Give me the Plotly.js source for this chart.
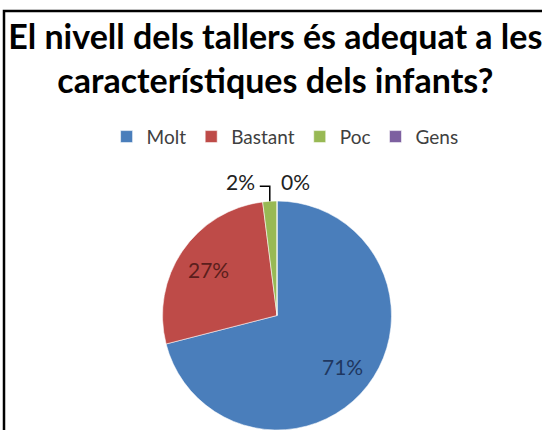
<!DOCTYPE html>
<html>
<head>
<meta charset="utf-8">
<script src="https://cdn.plot.ly/plotly-3.0.1.min.js"></script>
<style>
html,body{margin:0;padding:0;background:#fff;overflow:hidden;}
#chart{width:542px;height:430px;}
</style>
</head>
<body>
<div id="chart"></div>
<script>
var categories = ["Molt", "Bastant", "Poc", "Gens"];
var values = [71, 27, 2, 0];
var sliceColors = ["#4A7EBB", "#BE4B48", "#98B954", "#7D60A0"];
var labelColors = ["#1F3760", "#5A1E1C", "#222222", "#222222"];

var W = 542, H = 430;
var cx = 277, cy = 316, R = 115;
var FONT = "Lato, 'Open Sans', sans-serif";
var total = values.reduce(function (a, b) { return a + b; }, 0);
function pct(v) { return Math.round(v / total * 100) + "%"; }
function toPX(x) { return x / W; }
function toPY(y) { return 1 - y / H; }

var trace = {
  type: "pie",
  labels: categories,
  values: values,
  sort: false,
  direction: "clockwise",
  rotation: 0,
  textinfo: "none",
  textposition: "none",
  marker: {colors: sliceColors, line: {color: "rgba(255,255,255,0.55)", width: 1}},
  domain: {x: [(cx - R) / W, (cx + R) / W], y: [(H - cy - R) / H, (H - cy + R) / H]},
  hoverinfo: "label+percent",
  automargin: false,
  showlegend: true
};

// data labels placed along each slice's mid-angle (computed from the values)
var annotations = [];
var cum = 0;
var mids = [];
for (var i = 0; i < values.length; i++) {
  var mid = (cum + values[i] / 2) / total * 2 * Math.PI;
  mids.push(mid);
  cum += values[i];
}
for (var j = 0; j < 2; j++) {
  var rr = 0.72 * R;
  annotations.push({
    xref: "paper", yref: "paper",
    x: toPX(cx + rr * Math.sin(mids[j])), y: toPY(cy - rr * Math.cos(mids[j])),
    xanchor: "center", yanchor: "middle", showarrow: false,
    text: pct(values[j]), font: {family: FONT, size: 21, color: labelColors[j]}
  });
}
// leader line for the small "Poc" slice
var px = cx + R * Math.sin(mids[2]);
var py = cy - R * Math.cos(mids[2]);
var elbowY = py - 15, leftX = px - 10;
annotations.push({xref: "paper", yref: "paper", x: toPX(leftX - 3), y: toPY(elbowY - 5),
  xanchor: "right", yanchor: "middle", showarrow: false,
  text: pct(values[2]), font: {family: FONT, size: 21, color: labelColors[2]}});
annotations.push({xref: "paper", yref: "paper", x: toPX(px + 9), y: toPY(elbowY - 5),
  xanchor: "left", yanchor: "middle", showarrow: false,
  text: pct(values[3]), font: {family: FONT, size: 21, color: labelColors[3]}});

var layout = {
  width: W,
  height: H,
  margin: {l: 0, r: 0, t: 0, b: 0},
  paper_bgcolor: "#ffffff",
  title: {
    text: "<b>El nivell dels tallers és adequat a les<br>característiques dels infants?</b>",
    font: {family: FONT, size: 34, color: "#000000"},
    x: 0.508, xanchor: "center",
    y: 1 - 48.5 / H, yanchor: "top"
  },
  legend: {
    orientation: "h",
    x: 0.526, xanchor: "center",
    y: 0.682, yanchor: "middle",
    font: {family: FONT, size: 19, color: "#404040"},
    itemwidth: 30,
    traceorder: "normal"
  },
  annotations: annotations,
  shapes: [
    {type: "rect", xref: "paper", yref: "paper",
     x0: 4 / W, x1: 1.05, y0: -0.05, y1: 1 - 11 / H,
     line: {color: "#000000", width: 2.5}, fillcolor: "rgba(0,0,0,0)", layer: "above"},
    {type: "path", xref: "paper", yref: "paper",
     path: "M " + toPX(px) + " " + toPY(py) + " L " + toPX(px) + " " + toPY(elbowY) + " L " + toPX(leftX) + " " + toPY(elbowY),
     line: {color: "#000000", width: 1.5}, layer: "above"}
  ]
};

Plotly.newPlot("chart", [trace], layout, {displayModeBar: false, staticPlot: true});
</script>
</body>
</html>
